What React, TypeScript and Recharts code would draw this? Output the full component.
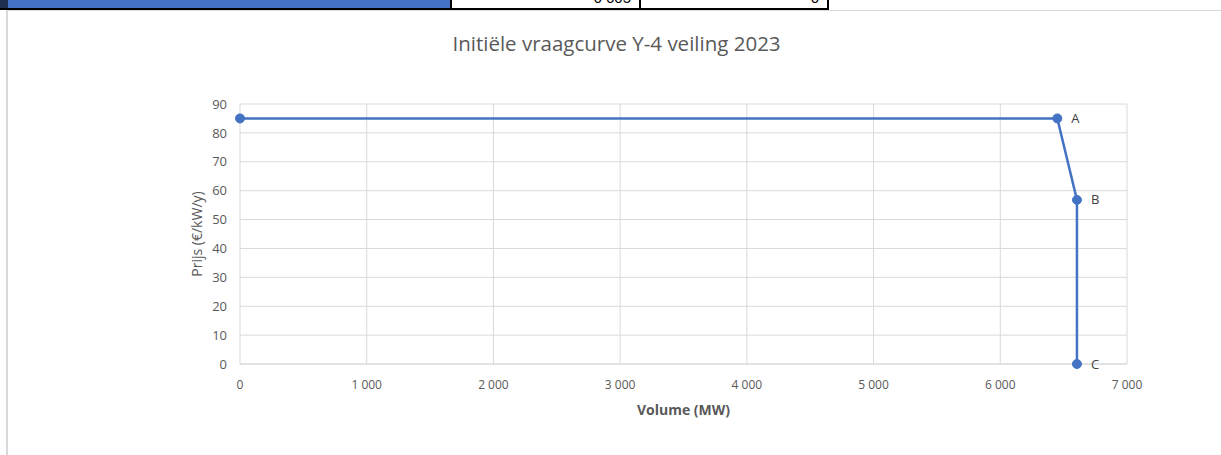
import { LineChart, Line, XAxis, YAxis, CartesianGrid, LabelList, Label } from 'recharts';

// Initiële vraagcurve: volume (MW) vs prijs (€/kW/y)
const volumes = [0, 6450, 6605, 6605];
const prices = [85, 85, 56.8, 0];
const pointLabels = ['', 'A', 'B', 'C'];

const xTicks = [0, 1000, 2000, 3000, 4000, 5000, 6000, 7000];
const yTicks = [0, 10, 20, 30, 40, 50, 60, 70, 80, 90];

const data = volumes.map((v, i) => ({ volume: v, price: prices[i], label: pointLabels[i] }));

const BLUE = '#4472C4';
const GRID = '#d9d9d9';
const TEXT = '#595959';
const FONT = '"Open Sans", sans-serif';

const fmtThousands = (v: number) => (v === 0 ? '0' : `${Math.floor(v / 1000)} ${String(v % 1000).padStart(3, '0')}`);

const XTick = (props: any) => {
  const { x, y, payload } = props;
  return (
    <text x={x} y={y} textAnchor="middle" dy="0.35em" fontSize={12} fill={TEXT} fontFamily={FONT}>
      {fmtThousands(payload.value)}
    </text>
  );
};

const PointLabel = (props: any) => {
  const { x, y, value } = props;
  if (!value) return null;
  return (
    <text x={x + 14} y={y} dy="0.35em" fontSize={13} fill="#404040" fontFamily={FONT}>
      {value}
    </text>
  );
};

export default function App() {
  return (
    <div style={{ position: 'fixed', left: 0, top: 0, width: 1221, height: 455, background: '#fff', overflow: 'hidden', fontFamily: FONT }}>
      {/* spreadsheet row above the chart */}
      <div style={{ position: 'absolute', left: 0, top: 0, width: 8, height: 9, background: '#1f2f4f' }} />
      <div style={{ position: 'absolute', left: 17, top: -4, width: 9, height: 7, borderRadius: '50%', background: '#fff' }} />
      <div style={{ position: 'absolute', left: 8, top: 0, width: 442, height: 8, background: BLUE }} />
      <div style={{ position: 'absolute', left: 0, top: 8, width: 829, height: 2, background: '#000' }} />
      <div style={{ position: 'absolute', left: 450, top: 0, width: 2, height: 10, background: '#000' }} />
      <div style={{ position: 'absolute', left: 639, top: 0, width: 2, height: 10, background: '#000' }} />
      <div style={{ position: 'absolute', left: 827, top: 0, width: 2, height: 10, background: '#000' }} />
      <div style={{ position: 'absolute', left: 452, top: 0, width: 187, height: 8, overflow: 'hidden' }}>
        <div style={{ position: 'absolute', right: 8, top: -11, fontSize: 15, color: '#000', fontFamily: '"Liberation Sans", sans-serif' }}>6 605</div>
      </div>
      <div style={{ position: 'absolute', left: 641, top: 0, width: 186, height: 8, overflow: 'hidden' }}>
        <div style={{ position: 'absolute', right: 8, top: -11, fontSize: 15, color: '#000', fontFamily: '"Liberation Sans", sans-serif' }}>0</div>
      </div>

      {/* chart frame */}
      <div style={{ position: 'absolute', left: 6, top: 10, width: 1215, height: 445, borderLeft: `2px solid ${GRID}`, borderTop: `1px solid ${GRID}` }} />

      <div style={{ position: 'absolute', left: 0, top: 29, width: 1233, textAlign: 'center', fontSize: 20.5, color: TEXT, fontFamily: FONT }}>
        Initiële vraagcurve Y-4 veiling 2023
      </div>

      <div style={{ position: 'absolute', left: 0, top: 0 }}>
        <LineChart width={1221} height={455} data={data} margin={{ top: 104, right: 94, bottom: 0, left: 180 }}>
          <CartesianGrid stroke={GRID} strokeWidth={1} />
          <XAxis
            type="number"
            dataKey="volume"
            domain={[0, 7000]}
            ticks={xTicks}
            interval={0}
            axisLine={{ stroke: GRID }}
            tickLine={false}
            tickSize={0}
            tickMargin={21}
            height={91}
            tick={<XTick />}
          >
            <Label
              content={(p: any) => {
                const vb = p.viewBox;
                return (
                  <text x={vb.x + vb.width / 2} y={vb.y + 46} textAnchor="middle" dy="0.35em" fontSize={14} fontWeight="bold" fill={TEXT} fontFamily={FONT}>
                    Volume (MW)
                  </text>
                );
              }}
            />
          </XAxis>
          <YAxis
            type="number"
            dataKey="price"
            domain={[0, 90]}
            ticks={yTicks}
            interval={0}
            axisLine={false}
            tickLine={false}
            tickSize={0}
            tickMargin={13}
            width={60}
            tick={{ fontSize: 13, fill: TEXT, fontFamily: FONT }}
          >
            <Label
              content={(p: any) => {
                const vb = p.viewBox;
                const cx = vb.x + 17;
                const cy = vb.y + vb.height / 2;
                return (
                  <text x={cx} y={cy} transform={`rotate(-90, ${cx}, ${cy})`} textAnchor="middle" dy="0.35em" fontSize={14} fill={TEXT} fontFamily={FONT}>
                    Prijs (€/kW/y)
                  </text>
                );
              }}
            />
          </YAxis>
          <Line
            type="linear"
            dataKey="price"
            stroke={BLUE}
            strokeWidth={2.5}
            dot={{ r: 4.5, fill: BLUE, stroke: BLUE, strokeWidth: 1 }}
            activeDot={false}
            isAnimationActive={false}
          >
            <LabelList dataKey="label" content={<PointLabel />} />
          </Line>
        </LineChart>
      </div>
    </div>
  );
}
